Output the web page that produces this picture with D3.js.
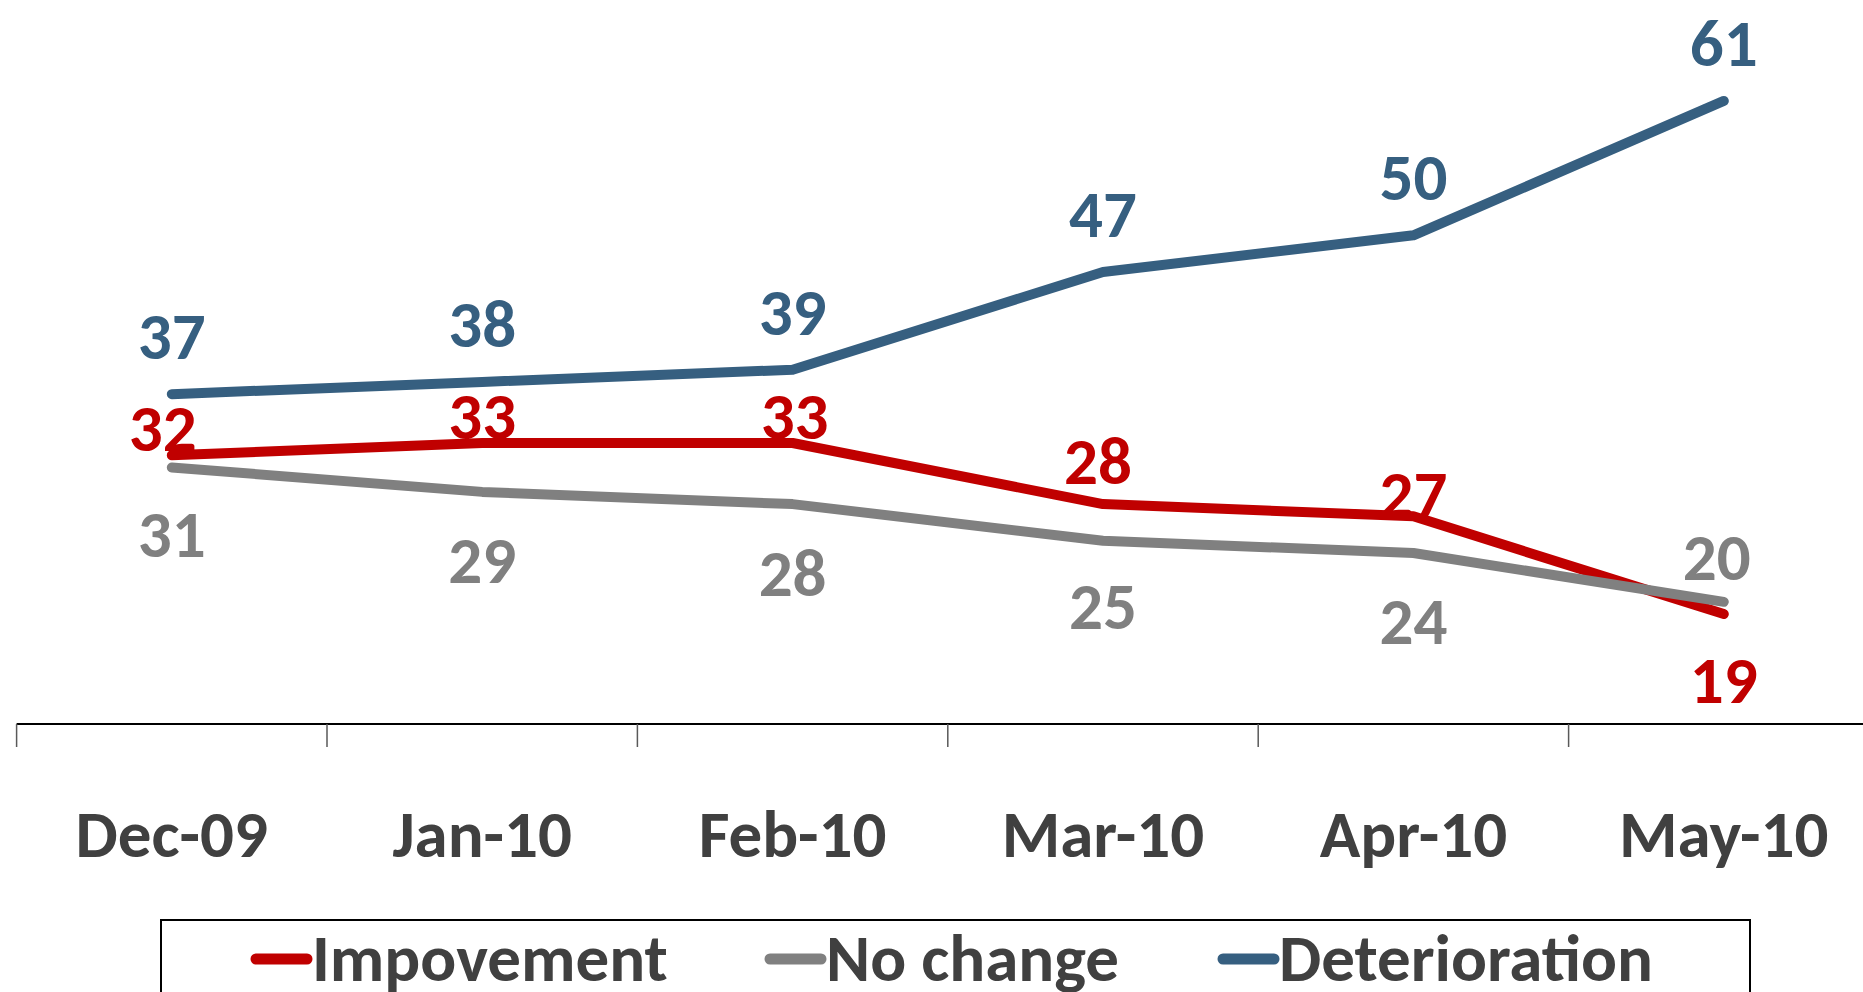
<!DOCTYPE html>
<html>
<head>
<meta charset="utf-8">
<script src="https://cdn.jsdelivr.net/npm/d3@7"></script>
<style>
  html, body { margin: 0; padding: 0; background: #ffffff; }
  svg { display: block; }
  text { font-family: Carlito, Calibri, Lato, "Open Sans", sans-serif; font-weight: 700; }
</style>
</head>
<body>
<svg id="chart" width="1863" height="992"></svg>
<script>
// ---- data ----
const categories = ["Dec-09", "Jan-10", "Feb-10", "Mar-10", "Apr-10", "May-10"];
const seriesNames = ["Impovement", "No change", "Deterioration"];
const improvement = [32, 33, 33, 28, 27, 19];
const noChange = [31, 29, 28, 25, 24, 20];
const deterioration = [37, 38, 39, 47, 50, 61];
const seriesColors = ["#C00000", "#808080", "#365F80"];

// label placement (offset of label centre from point, in px)
const labelDY = [
  [-28, -28, -28, -44, -23, 65],
  [66, 67, 68, 64, 67, -46],
  [-59, -59, -59, -59, -59, -59]
];
const labelDX = [
  [-9, 0, 2, -5, 0, 0],
  [0, 0, 0, 0, 0, -7],
  [0, 0, 0, 0, 0, 0]
];

const series = [
  { name: seriesNames[0], values: improvement, color: seriesColors[0] },
  { name: seriesNames[1], values: noChange, color: seriesColors[1] },
  { name: seriesNames[2], values: deterioration, color: seriesColors[2] }
];

const svg = d3.select("#chart");
const FONT = 67;
const HALF_CAP = 24;
const textColor = "#404040";

const x = d3.scaleBand().domain(categories).range([16.6, 16.6 + 6 * 310.4]).padding(0);
const y = d3.scaleLinear().domain([10, 70]).range([724, -9]);
const cx = c => x(c) + x.bandwidth() / 2;

// axis line
const axisY = y(10);
svg.append("line")
  .attr("x1", x.range()[0]).attr("x2", x.range()[1])
  .attr("y1", axisY).attr("y2", axisY)
  .attr("stroke", "#000").attr("stroke-width", 2);

// tick marks at band boundaries
svg.selectAll(".tick-mark")
  .data(categories)
  .enter().append("line")
  .attr("x1", d => x(d)).attr("x2", d => x(d))
  .attr("y1", axisY).attr("y2", axisY + 23)
  .attr("stroke", "#595959").attr("stroke-width", 1.5);

// category labels
svg.selectAll(".cat")
  .data(categories)
  .enter().append("text")
  .attr("x", d => cx(d))
  .attr("y", 857)
  .attr("text-anchor", "middle")
  .attr("font-size", FONT)
  .attr("fill", textColor)
  .text(d => d);

// lines
const line = d3.line()
  .x((d, i) => cx(categories[i]))
  .y(d => y(d));

series.forEach(s => {
  svg.append("path")
    .datum(s.values)
    .attr("d", line)
    .attr("fill", "none")
    .attr("stroke", s.color)
    .attr("stroke-width", 10)
    .attr("stroke-linecap", "round")
    .attr("stroke-linejoin", "round");
});

// data labels
series.forEach((s, si) => {
  svg.selectAll(".lbl" + si)
    .data(s.values)
    .enter().append("text")
    .attr("x", (d, i) => cx(categories[i]) + labelDX[si][i])
    .attr("y", (d, i) => y(d) + labelDY[si][i] + HALF_CAP)
    .attr("text-anchor", "middle")
    .attr("font-size", FONT)
    .attr("fill", s.color)
    .text(d => d);
});

// legend
const legend = svg.append("g");
legend.append("rect")
  .attr("x", 161).attr("y", 920)
  .attr("width", 1589).attr("height", 120)
  .attr("fill", "none").attr("stroke", "#000").attr("stroke-width", 2);

const legendX = [252, 766, 1219];
series.forEach((s, i) => {
  legend.append("line")
    .attr("x1", legendX[i] + 4).attr("x2", legendX[i] + 55)
    .attr("y1", 959).attr("y2", 959)
    .attr("stroke", s.color).attr("stroke-width", 11)
    .attr("stroke-linecap", "round");
  legend.append("text")
    .attr("x", legendX[i] + 60)
    .attr("y", 981)
    .attr("font-size", FONT)
    .attr("fill", textColor)
    .text(s.name);
});
</script>
</body>
</html>
